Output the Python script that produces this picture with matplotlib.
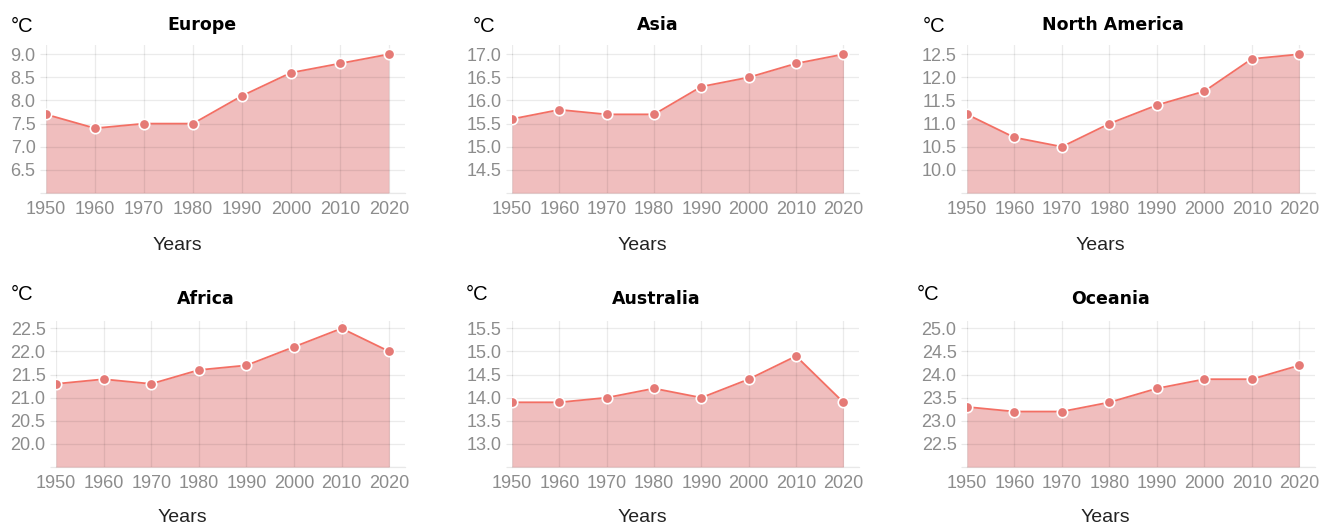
import matplotlib

matplotlib.use("Agg")
import matplotlib.pyplot as plt

W, H = 1328, 529

years = [1950, 1960, 1970, 1980, 1990, 2000, 2010, 2020]

regions = ["Europe", "Asia", "North America", "Africa", "Australia", "Oceania"]
europe = [7.7, 7.4, 7.5, 7.5, 8.1, 8.6, 8.8, 9.0]
asia = [15.6, 15.8, 15.7, 15.7, 16.3, 16.5, 16.8, 17.0]
north_america = [11.2, 10.7, 10.5, 11.0, 11.4, 11.7, 12.4, 12.5]
africa = [21.3, 21.4, 21.3, 21.6, 21.7, 22.1, 22.5, 22.0]
australia = [13.9, 13.9, 14.0, 14.2, 14.0, 14.4, 14.9, 13.9]
oceania = [23.3, 23.2, 23.2, 23.4, 23.7, 23.9, 23.9, 24.2]
series = [europe, asia, north_america, africa, australia, oceania]

# y-axis: (bottom, first labelled tick, last labelled tick)
y_axes = [(6.0, 6.5, 9.0), (14.0, 14.5, 17.0), (9.5, 10.0, 12.5),
          (19.5, 20.0, 22.5), (12.5, 13.0, 15.5), (22.0, 22.5, 25.0)]

# layout in pixels: (left, right, top, bottom) of the plot area
boxes = [(46, 405, 45, 193), (512, 859, 45, 193), (967, 1315, 45, 193),
         (56, 405, 321, 467), (512, 859, 321, 467), (967, 1315, 321, 467)]
title_x = [202, 658, 1113, 206, 656, 1111]
unit_x = [22, 484, 934, 22, 477, 928]
years_x = [177, 642, 1100, 182, 642, 1105]

LINE = "#f36f64"
FILL = "#f0bebe"
DOT = "#e57a76"
GRID = (0, 0, 0, 0.09)
TICK = "#8c8c8c"

plt.rcParams["font.family"] = ["Liberation Sans", "DejaVu Sans"]

fig = plt.figure(figsize=(W / 100, H / 100), dpi=100)

for i, name in enumerate(regions):
    l, r, t, b = boxes[i]
    ax = fig.add_axes([l / W, 1 - b / H, (r - l) / W, (b - t) / H])
    ax.set_axisbelow("line")
    vals = series[i]
    lo, first, last = y_axes[i]
    top_pad = 0.2 if i < 3 else 0.16
    ax.fill_between(years, vals, lo, color=FILL, lw=0, zorder=1)
    ax.plot(years, vals, color=LINE, lw=1.3, zorder=2)
    ax.plot(years, vals, "o", ms=7.5, mfc=DOT, mec="white", mew=1.2, zorder=3)

    ax.set_xlim(1950, 2020 + 3.3)
    ax.set_ylim(lo, last + top_pad)

    ticks = [lo + 0.5 * k for k in range(int(round((last - lo) / 0.5)) + 1)]
    ax.set_yticks(ticks)
    ax.set_yticklabels([""] + [f"{v:.1f}" for v in ticks[1:]])
    ax.set_xticks(years)
    ax.set_xticklabels([str(y) for y in years])

    ax.grid(True, color="black", alpha=0.08, lw=0.9)
    for s in ("top", "right", "left"):
        ax.spines[s].set_visible(False)
    ax.spines["bottom"].set_color(GRID)
    ax.spines["bottom"].set_linewidth(0.9)

    ax.tick_params(axis="y", length=4.5, width=0.9, color=GRID, pad=3,
                   labelsize=13, labelcolor=TICK)
    ax.tick_params(axis="x", length=0, pad=6, labelsize=13, labelcolor=TICK)

    ty = 25 if i < 3 else 299
    fig.text(title_x[i] / W, 1 - ty / H, name, ha="center", va="center",
             fontsize=12.5, fontweight="bold", family="DejaVu Sans", color="black")
    uy = 27 if i < 3 else 295
    fig.text(unit_x[i] / W, 1 - uy / H, "°C", ha="center", va="center",
             fontsize=14.5, color="black")
    yy = 245 if i < 3 else 518
    fig.text(years_x[i] / W, 1 - yy / H, "Years", ha="center", va="center",
             fontsize=14, color="#222222")

fig.savefig("out.png", dpi=100)
